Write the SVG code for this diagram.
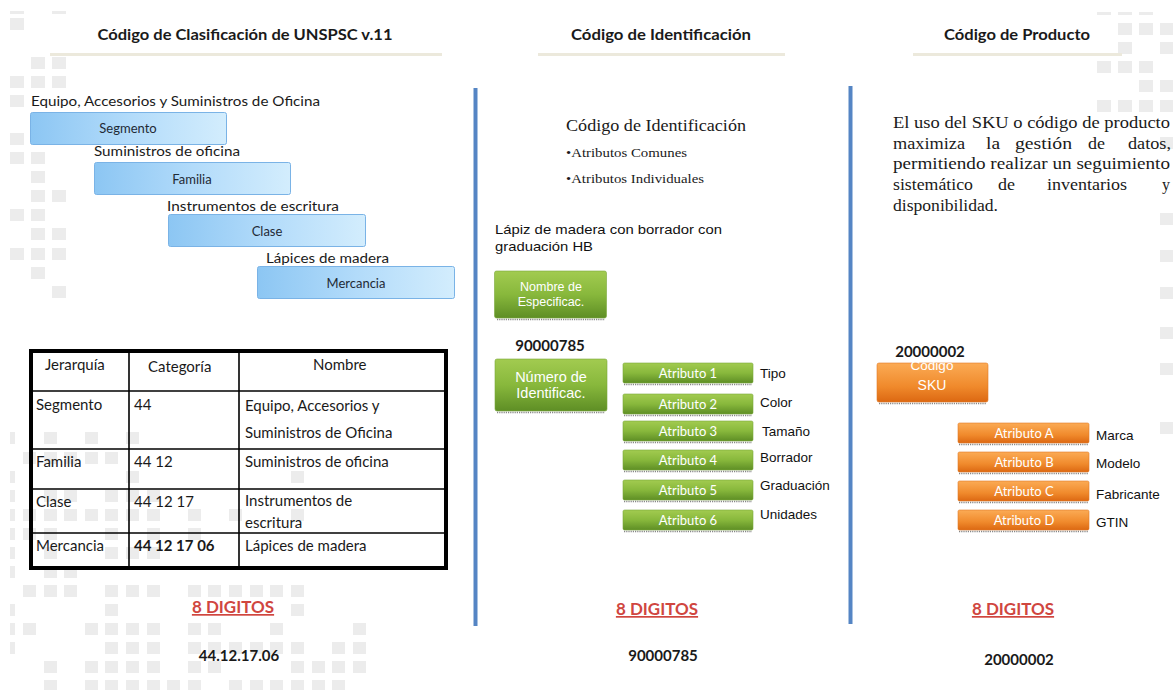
<svg xmlns="http://www.w3.org/2000/svg" width="1173" height="690" viewBox="0 0 1173 690">
<defs>
<linearGradient id="gBlue" x1="0" y1="0" x2="1" y2="0"><stop offset="0" stop-color="#8cc6f3"/><stop offset="0.5" stop-color="#b2dbfa"/><stop offset="1" stop-color="#d3edfd"/></linearGradient>
<linearGradient id="gGreen" x1="0" y1="0" x2="0" y2="1"><stop offset="0" stop-color="#a2cb50"/><stop offset="0.5" stop-color="#88b83c"/><stop offset="1" stop-color="#5e8e25"/></linearGradient>
<linearGradient id="gOrange" x1="0" y1="0" x2="0" y2="1"><stop offset="0" stop-color="#fbab55"/><stop offset="0.6" stop-color="#f08a2c"/><stop offset="1" stop-color="#dc6812"/></linearGradient>
</defs>
<style>
.sq{fill:#ececec}
.title{font-family:Lato,"Liberation Sans",sans-serif;font-weight:bold;font-size:15px;fill:#1a1a1a}
.bar{fill:#ece9dc}
.vline{stroke:#5585c4;stroke-width:4}
.lbl{font-family:Lato,"Liberation Sans",sans-serif;font-size:13.5px;fill:#1a1a1a}
.bbox{fill:url(#gBlue);stroke:#7ab3e6;stroke-width:1}
.btxt{font-family:Lato,"Liberation Sans",sans-serif;font-size:13px;fill:#1f2a36;text-anchor:middle}
.tbl{font-family:Lato,"Liberation Sans",sans-serif;font-size:15px;fill:#1a1a1a}
.grid{stroke:#000;stroke-width:1.6;fill:none}
.outer{stroke:#000;stroke-width:4;fill:none}
.red{font-family:Lato,"Liberation Sans",sans-serif;font-weight:bold;font-size:17px;fill:#d0463f;text-anchor:middle;text-decoration:underline}
.num{font-family:Lato,"Liberation Sans",sans-serif;font-weight:bold;font-size:15px;fill:#1a1a1a;text-anchor:middle}
.serif{font-family:"Liberation Serif",serif;fill:#1a1a1a}
.arial{font-family:"Liberation Sans",Arial,sans-serif;font-size:13.5px;fill:#111}
.gbox{fill:url(#gGreen);stroke:#7aa83a;stroke-width:0.6}
.obox{fill:url(#gOrange);stroke:#e07b25;stroke-width:0.6}
.wtxt{font-family:"Liberation Sans",Arial,sans-serif;fill:#fff;text-anchor:middle}
.atxt{font-family:Lato,"Liberation Sans",sans-serif;font-size:13px;fill:#fff;text-anchor:middle}
.shadow{stroke:#555;stroke-width:1.6;stroke-dasharray:1.2 1;opacity:0.7}
</style>

<g id="background">
<rect class="sq" x="10" y="11" width="14" height="3"/><rect class="sq" x="52" y="11" width="14" height="3"/>
<rect class="sq" x="10" y="18" width="14" height="12"/>
<rect class="sq" x="31" y="57" width="14" height="12"/><rect class="sq" x="52" y="57" width="14" height="12"/>
<rect class="sq" x="10" y="76" width="14" height="12"/><rect class="sq" x="31" y="76" width="14" height="12"/><rect class="sq" x="52" y="76" width="14" height="12"/>
<rect class="sq" x="10" y="95" width="14" height="12"/>
<rect class="sq" x="10" y="133" width="14" height="12"/>
<rect class="sq" x="10" y="152" width="14" height="12"/><rect class="sq" x="31" y="152" width="14" height="12"/>
<rect class="sq" x="31" y="171" width="14" height="12"/>
<rect class="sq" x="31" y="190" width="14" height="12"/><rect class="sq" x="52" y="190" width="14" height="12"/>
<rect class="sq" x="10" y="209" width="14" height="12"/><rect class="sq" x="31" y="209" width="14" height="12"/>
<rect class="sq" x="31" y="228" width="14" height="12"/><rect class="sq" x="52" y="228" width="14" height="12"/>
<rect class="sq" x="10" y="248" width="14" height="12"/><rect class="sq" x="31" y="248" width="14" height="12"/><rect class="sq" x="52" y="248" width="14" height="12"/>
<rect class="sq" x="31" y="267" width="14" height="12"/>
<rect class="sq" x="52" y="286" width="14" height="12"/>
<g>
<rect class="sq" x="10" y="432" width="5" height="12"/><rect class="sq" x="44" y="432" width="13" height="12"/><rect class="sq" x="85" y="432" width="13" height="12"/><rect class="sq" x="126" y="432" width="13" height="12"/>
<rect class="sq" x="23" y="452" width="13" height="12"/><rect class="sq" x="44" y="452" width="13" height="12"/><rect class="sq" x="64" y="452" width="13" height="12"/><rect class="sq" x="85" y="452" width="13" height="12"/><rect class="sq" x="105" y="452" width="13" height="12"/>
<rect class="sq" x="10" y="471" width="5" height="12"/><rect class="sq" x="126" y="471" width="13" height="12"/><rect class="sq" x="291" y="471" width="13" height="12"/>
<rect class="sq" x="10" y="490" width="5" height="12"/><rect class="sq" x="44" y="490" width="13" height="12"/><rect class="sq" x="64" y="490" width="13" height="12"/><rect class="sq" x="105" y="490" width="13" height="12"/><rect class="sq" x="126" y="490" width="13" height="12"/><rect class="sq" x="147" y="490" width="13" height="12"/>
<rect class="sq" x="10" y="509" width="5" height="12"/><rect class="sq" x="23" y="509" width="13" height="12"/><rect class="sq" x="44" y="509" width="13" height="12"/><rect class="sq" x="64" y="509" width="13" height="12"/><rect class="sq" x="85" y="509" width="13" height="12"/><rect class="sq" x="105" y="509" width="13" height="12"/><rect class="sq" x="126" y="509" width="13" height="12"/><rect class="sq" x="147" y="509" width="13" height="12"/><rect class="sq" x="188" y="509" width="13" height="12"/><rect class="sq" x="229" y="509" width="13" height="12"/><rect class="sq" x="291" y="509" width="13" height="12"/>
<rect class="sq" x="10" y="528" width="5" height="12"/><rect class="sq" x="23" y="528" width="13" height="12"/><rect class="sq" x="44" y="528" width="13" height="12"/><rect class="sq" x="105" y="528" width="13" height="12"/><rect class="sq" x="147" y="528" width="13" height="12"/><rect class="sq" x="188" y="528" width="13" height="12"/>
<rect class="sq" x="10" y="547" width="5" height="12"/><rect class="sq" x="44" y="547" width="13" height="12"/><rect class="sq" x="105" y="547" width="13" height="12"/><rect class="sq" x="126" y="547" width="13" height="12"/><rect class="sq" x="147" y="547" width="13" height="12"/>
<rect class="sq" x="10" y="566" width="5" height="12"/><rect class="sq" x="44" y="566" width="13" height="12"/><rect class="sq" x="64" y="566" width="13" height="12"/>
<rect class="sq" x="23" y="585" width="13" height="12"/><rect class="sq" x="44" y="585" width="13" height="12"/><rect class="sq" x="64" y="585" width="13" height="12"/><rect class="sq" x="105" y="585" width="13" height="12"/><rect class="sq" x="126" y="585" width="13" height="12"/><rect class="sq" x="147" y="585" width="13" height="12"/><rect class="sq" x="188" y="585" width="13" height="12"/><rect class="sq" x="208" y="585" width="13" height="12"/><rect class="sq" x="229" y="585" width="13" height="12"/><rect class="sq" x="250" y="585" width="13" height="12"/><rect class="sq" x="270" y="585" width="13" height="12"/><rect class="sq" x="291" y="585" width="13" height="12"/>
<rect class="sq" x="10" y="604" width="5" height="12"/><rect class="sq" x="105" y="604" width="13" height="12"/><rect class="sq" x="291" y="604" width="13" height="12"/>
<rect class="sq" x="10" y="623" width="5" height="12"/><rect class="sq" x="23" y="623" width="13" height="12"/><rect class="sq" x="85" y="623" width="13" height="12"/><rect class="sq" x="105" y="623" width="13" height="12"/><rect class="sq" x="126" y="623" width="13" height="12"/><rect class="sq" x="147" y="623" width="13" height="12"/><rect class="sq" x="188" y="623" width="13" height="12"/><rect class="sq" x="208" y="623" width="13" height="12"/><rect class="sq" x="270" y="623" width="13" height="12"/><rect class="sq" x="353" y="623" width="13" height="12"/>
<rect class="sq" x="10" y="642" width="5" height="12"/><rect class="sq" x="105" y="642" width="13" height="12"/><rect class="sq" x="126" y="642" width="13" height="12"/><rect class="sq" x="147" y="642" width="13" height="12"/><rect class="sq" x="188" y="642" width="13" height="12"/><rect class="sq" x="208" y="642" width="13" height="12"/><rect class="sq" x="229" y="642" width="13" height="12"/><rect class="sq" x="250" y="642" width="13" height="12"/><rect class="sq" x="270" y="642" width="13" height="12"/><rect class="sq" x="291" y="642" width="13" height="12"/><rect class="sq" x="332" y="642" width="13" height="12"/><rect class="sq" x="353" y="642" width="13" height="12"/>
<rect class="sq" x="44" y="661" width="13" height="12"/><rect class="sq" x="85" y="661" width="13" height="12"/><rect class="sq" x="105" y="661" width="13" height="12"/><rect class="sq" x="126" y="661" width="13" height="12"/><rect class="sq" x="147" y="661" width="13" height="12"/><rect class="sq" x="188" y="661" width="13" height="12"/><rect class="sq" x="208" y="661" width="13" height="12"/><rect class="sq" x="291" y="661" width="13" height="12"/><rect class="sq" x="312" y="661" width="13" height="12"/><rect class="sq" x="332" y="661" width="13" height="12"/><rect class="sq" x="353" y="661" width="13" height="12"/>
<rect class="sq" x="44" y="680" width="13" height="10"/><rect class="sq" x="85" y="680" width="13" height="10"/><rect class="sq" x="105" y="680" width="13" height="10"/><rect class="sq" x="126" y="680" width="13" height="10"/><rect class="sq" x="147" y="680" width="13" height="10"/><rect class="sq" x="167" y="680" width="13" height="10"/><rect class="sq" x="188" y="680" width="13" height="10"/><rect class="sq" x="229" y="680" width="13" height="10"/><rect class="sq" x="250" y="680" width="13" height="10"/><rect class="sq" x="270" y="680" width="13" height="10"/><rect class="sq" x="291" y="680" width="13" height="10"/><rect class="sq" x="312" y="680" width="13" height="10"/><rect class="sq" x="332" y="680" width="13" height="10"/>
</g>
<rect class="sq" x="1097" y="12" width="14" height="3"/><rect class="sq" x="1118" y="12" width="14" height="3"/><rect class="sq" x="1139" y="12" width="14" height="3"/>
<rect class="sq" x="1118" y="23" width="14" height="12"/><rect class="sq" x="1139" y="23" width="14" height="12"/><rect class="sq" x="1160" y="23" width="13" height="12"/>
<rect class="sq" x="1118" y="42" width="14" height="12"/><rect class="sq" x="1160" y="42" width="13" height="12"/>
<rect class="sq" x="1097" y="61" width="14" height="12"/><rect class="sq" x="1118" y="61" width="14" height="12"/><rect class="sq" x="1139" y="61" width="14" height="12"/>
<rect class="sq" x="1139" y="80" width="14" height="12"/><rect class="sq" x="1160" y="80" width="13" height="12"/>
<rect class="sq" x="1097" y="100" width="14" height="12"/><rect class="sq" x="1118" y="100" width="14" height="12"/><rect class="sq" x="1139" y="100" width="14" height="12"/><rect class="sq" x="1160" y="100" width="13" height="12"/>
<rect class="sq" x="1160" y="137" width="13" height="12"/>
<rect class="sq" x="1160" y="213" width="13" height="12"/>
<rect class="sq" x="1160" y="250" width="13" height="12"/>
<rect class="sq" x="1160" y="287" width="13" height="12"/>
<rect class="sq" x="1160" y="327" width="13" height="12"/>
<rect class="sq" x="1160" y="363" width="13" height="12"/>
<rect class="sq" x="1160" y="422" width="13" height="12"/>
</g>

<g id="headers">
<text class="title" x="245" y="40" text-anchor="middle" textLength="295" lengthAdjust="spacingAndGlyphs">Código de Clasificación de UNSPSC v.11</text>
<rect class="bar" x="50" y="53" width="392" height="3"/>
<text class="title" x="661" y="40" text-anchor="middle" textLength="180" lengthAdjust="spacingAndGlyphs">Código de Identificación</text>
<rect class="bar" x="538" y="53" width="247" height="3"/>
<text class="title" x="1017" y="40" text-anchor="middle" textLength="146" lengthAdjust="spacingAndGlyphs">Código de Producto</text>
<rect class="bar" x="913" y="53" width="209" height="3"/>
</g>

<g id="dividers">
<line class="vline" x1="475.5" y1="88" x2="475.5" y2="626"/>
<line class="vline" x1="850.5" y1="86" x2="850.5" y2="624"/>
</g>

<g id="hierarchy">
<g id="segmento">
<text class="lbl" x="31" y="106" textLength="289" lengthAdjust="spacingAndGlyphs">Equipo, Accesorios y Suministros de Oficina</text>
<rect class="bbox" x="30.5" y="112.5" width="196" height="32" rx="2"/>
<text class="btxt" x="128" y="133">Segmento</text>
</g>
<g id="familia">
<text class="lbl" x="94" y="156" textLength="146" lengthAdjust="spacingAndGlyphs">Suministros de oficina</text>
<rect class="bbox" x="94.5" y="162.5" width="196" height="32" rx="2"/>
<text class="btxt" x="192" y="184">Familia</text>
</g>
<g id="clase">
<text class="lbl" x="167" y="211" textLength="172" lengthAdjust="spacingAndGlyphs">Instrumentos de escritura</text>
<rect class="bbox" x="168.5" y="214.5" width="197" height="32" rx="2"/>
<text class="btxt" x="267" y="236">Clase</text>
</g>
<g id="mercancia">
<text class="lbl" x="266" y="263" textLength="123" lengthAdjust="spacingAndGlyphs">Lápices de madera</text>
<rect class="bbox" x="257.5" y="266.5" width="197" height="32" rx="2"/>
<text class="btxt" x="356" y="288">Mercancia</text>
</g>
</g>

<g id="table">
<line class="grid" x1="129" y1="351" x2="129" y2="568"/>
<line class="grid" x1="239" y1="351" x2="239" y2="568"/>
<line class="grid" x1="31" y1="391" x2="446" y2="391"/>
<line class="grid" x1="31" y1="449" x2="446" y2="449"/>
<line class="grid" x1="31" y1="489" x2="446" y2="489"/>
<line class="grid" x1="31" y1="533" x2="446" y2="533"/>
<rect class="outer" x="31" y="351" width="415" height="217"/>
<text class="tbl" x="45" y="370">Jerarquía</text>
<text class="tbl" x="148" y="372">Categoría</text>
<text class="tbl" x="313" y="370">Nombre</text>
<text class="tbl" x="36" y="410">Segmento</text>
<text class="tbl" x="134" y="410">44</text>
<text class="tbl" x="245" y="411">Equipo, Accesorios y</text>
<text class="tbl" x="245" y="438">Suministros de Oficina</text>
<text class="tbl" x="36" y="467">Familia</text>
<text class="tbl" x="134" y="467">44 12</text>
<text class="tbl" x="245" y="467">Suministros de oficina</text>
<text class="tbl" x="36" y="507">Clase</text>
<text class="tbl" x="134" y="507">44 12 17</text>
<text class="tbl" x="245" y="506">Instrumentos de</text>
<text class="tbl" x="245" y="528">escritura</text>
<text class="tbl" x="36" y="551">Mercancia</text>
<text class="tbl" x="134" y="551" font-weight="bold">44 12 17 06</text>
<text class="tbl" x="245" y="551">Lápices de madera</text>
</g>

<g id="left-footer">
<text class="red" x="233" y="613">8 DIGITOS</text>
<text class="num" x="239" y="661">44.12.17.06</text>
</g>

<g id="identificacion">
<text class="serif" x="566" y="131" font-size="16.5" textLength="180" lengthAdjust="spacingAndGlyphs">Código de Identificación</text>
<text class="serif" x="566" y="157" font-size="11.5" textLength="121" lengthAdjust="spacingAndGlyphs">•Atributos Comunes</text>
<text class="serif" x="566" y="183" font-size="11.5" textLength="138" lengthAdjust="spacingAndGlyphs">•Atributos Individuales</text>
<text class="arial" x="495" y="234" textLength="227" lengthAdjust="spacingAndGlyphs">Lápiz de madera con borrador con</text>
<text class="arial" x="495" y="251" textLength="98" lengthAdjust="spacingAndGlyphs">graduación HB</text>
<g id="nombre-especificac">
<rect class="gbox" x="494.5" y="271" width="112" height="47" rx="2"/>
<line class="shadow" x1="497" y1="319.5" x2="605" y2="319.5"/>
<text class="wtxt" x="551" y="291" font-size="12.5">Nombre de</text>
<text class="wtxt" x="551" y="306" font-size="12.5">Especificac.</text>
</g>
<text class="num" x="550" y="351">90000785</text>
<g id="numero-identificac">
<rect class="gbox" x="495" y="359" width="112" height="52" rx="2"/>
<line class="shadow" x1="497" y1="412.5" x2="605" y2="412.5"/>
<text class="wtxt" x="551" y="382" font-size="14.5">Número de</text>
<text class="wtxt" x="551" y="398" font-size="14.5">Identificac.</text>
</g>
<g id="atributos-verdes">
<rect class="gbox" x="623" y="363" width="130" height="20" rx="1.5"/><line class="shadow" x1="624" y1="384.5" x2="752" y2="384.5"/>
<text class="atxt" x="688" y="378">Atributo 1</text>
<rect class="gbox" x="623" y="394" width="130" height="20" rx="1.5"/><line class="shadow" x1="624" y1="415.5" x2="752" y2="415.5"/>
<text class="atxt" x="688" y="409">Atributo 2</text>
<rect class="gbox" x="623" y="421" width="130" height="20" rx="1.5"/><line class="shadow" x1="624" y1="442.5" x2="752" y2="442.5"/>
<text class="atxt" x="688" y="436">Atributo 3</text>
<rect class="gbox" x="623" y="450" width="130" height="20" rx="1.5"/><line class="shadow" x1="624" y1="471.5" x2="752" y2="471.5"/>
<text class="atxt" x="688" y="465">Atributo 4</text>
<rect class="gbox" x="623" y="480" width="130" height="20" rx="1.5"/><line class="shadow" x1="624" y1="501.5" x2="752" y2="501.5"/>
<text class="atxt" x="688" y="495">Atributo 5</text>
<rect class="gbox" x="623" y="510" width="130" height="20" rx="1.5"/><line class="shadow" x1="624" y1="531.5" x2="752" y2="531.5"/>
<text class="atxt" x="688" y="525">Atributo 6</text>
</g>
<text class="arial" x="760" y="378">Tipo</text>
<text class="arial" x="760" y="407">Color</text>
<text class="arial" x="762" y="436">Tamaño</text>
<text class="arial" x="760" y="462">Borrador</text>
<text class="arial" x="760" y="490">Graduación</text>
<text class="arial" x="760" y="519">Unidades</text>
<text class="red" x="657" y="615">8 DIGITOS</text>
<text class="num" x="663" y="661">90000785</text>
</g>

<g id="producto">
<g class="serif" font-size="16">
<text x="893" y="128" textLength="277" lengthAdjust="spacingAndGlyphs">El uso del SKU o código de producto</text>
<text x="893" y="149" textLength="72" lengthAdjust="spacingAndGlyphs">maximiza</text>
<text x="986" y="149" textLength="14" lengthAdjust="spacingAndGlyphs">la</text>
<text x="1015" y="149" textLength="57" lengthAdjust="spacingAndGlyphs">gestión</text>
<text x="1088" y="149" textLength="17" lengthAdjust="spacingAndGlyphs">de</text>
<text x="1128" y="149" textLength="43" lengthAdjust="spacingAndGlyphs">datos,</text>
<text x="893" y="169" textLength="277" lengthAdjust="spacingAndGlyphs">permitiendo realizar un seguimiento</text>
<text x="893" y="190" textLength="80" lengthAdjust="spacingAndGlyphs">sistemático</text>
<text x="998" y="190" textLength="17" lengthAdjust="spacingAndGlyphs">de</text>
<text x="1047" y="190" textLength="80" lengthAdjust="spacingAndGlyphs">inventarios</text>
<text x="1162" y="190" textLength="8" lengthAdjust="spacingAndGlyphs">y</text>
<text x="893" y="211" textLength="105" lengthAdjust="spacingAndGlyphs">disponibilidad.</text>
</g>
<g id="codigo-sku">
<rect class="obox" x="877" y="363" width="111" height="39" rx="2"/>
<line class="shadow" x1="879" y1="403.5" x2="986" y2="403.5"/>
<text class="wtxt" x="932" y="370" font-size="13.5">Código</text>
<text class="wtxt" x="932" y="390" font-size="14">SKU</text>
</g>
<text class="num" x="930" y="357">20000002</text>
<g id="atributos-naranja">
<rect class="obox" x="958" y="423" width="131" height="20" rx="1.5"/><line class="shadow" x1="959" y1="444.5" x2="1088" y2="444.5"/>
<text class="atxt" x="1024" y="438">Atributo A</text>
<rect class="obox" x="958" y="452" width="131" height="20" rx="1.5"/><line class="shadow" x1="959" y1="473.5" x2="1088" y2="473.5"/>
<text class="atxt" x="1024" y="467">Atributo B</text>
<rect class="obox" x="958" y="481" width="131" height="20" rx="1.5"/><line class="shadow" x1="959" y1="502.5" x2="1088" y2="502.5"/>
<text class="atxt" x="1024" y="496">Atributo C</text>
<rect class="obox" x="958" y="510" width="131" height="20" rx="1.5"/><line class="shadow" x1="959" y1="531.5" x2="1088" y2="531.5"/>
<text class="atxt" x="1024" y="525">Atributo D</text>
</g>
<text class="arial" x="1096" y="440">Marca</text>
<text class="arial" x="1096" y="468">Modelo</text>
<text class="arial" x="1096" y="499">Fabricante</text>
<text class="arial" x="1096" y="527">GTIN</text>
<text class="red" x="1013" y="615">8 DIGITOS</text>
<text class="num" x="1019" y="665">20000002</text>
</g>
</svg>
